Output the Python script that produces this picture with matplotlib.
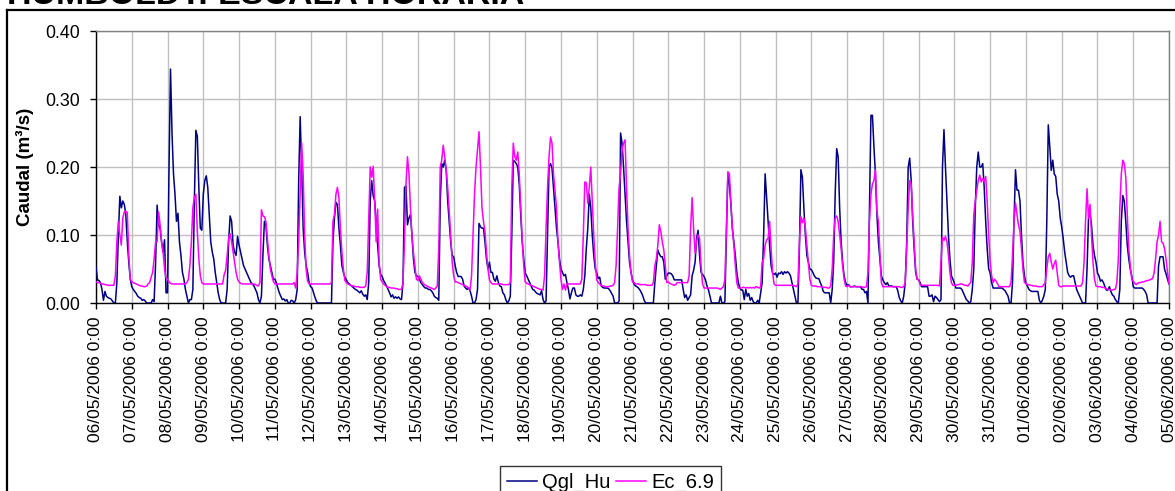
import numpy as np
import matplotlib
matplotlib.use("Agg")
import matplotlib.pyplot as plt
from matplotlib.lines import Line2D

plt.rcParams['font.family'] = ['Liberation Sans', 'DejaVu Sans']

# ---------------- data (hourly, one list of 24 values per day) ----------------
date_labels = ["06/05/2006 0:00", "07/05/2006 0:00", "08/05/2006 0:00", "09/05/2006 0:00",
               "10/05/2006 0:00", "11/05/2006 0:00", "12/05/2006 0:00", "13/05/2006 0:00",
               "14/05/2006 0:00", "15/05/2006 0:00", "16/05/2006 0:00", "17/05/2006 0:00",
               "18/05/2006 0:00", "19/05/2006 0:00", "20/05/2006 0:00", "21/05/2006 0:00",
               "22/05/2006 0:00", "23/05/2006 0:00", "24/05/2006 0:00", "25/05/2006 0:00",
               "26/05/2006 0:00", "27/05/2006 0:00", "28/05/2006 0:00", "29/05/2006 0:00",
               "30/05/2006 0:00", "31/05/2006 0:00", "01/06/2006 0:00", "02/06/2006 0:00",
               "03/06/2006 0:00", "04/06/2006 0:00", "05/06/2006 0:00"]

qgl_hu_days = [
    [0.053,0.034,0.033,0.030,0.020,0.004,0.017,0.010,0.008,0.007,0.006,0.003,0.000,0.000,0.030,0.100,0.157,0.140,0.150,0.145,0.130,0.090,0.060,0.035],
    [0.024,0.020,0.017,0.014,0.010,0.008,0.007,0.004,0.005,0.003,0.000,0.000,0.000,0.000,0.005,0.002,0.060,0.144,0.115,0.110,0.090,0.075,0.093,0.015],
    [0.015,0.200,0.344,0.250,0.190,0.160,0.120,0.132,0.090,0.070,0.045,0.035,0.020,0.010,0.000,0.005,0.005,0.020,0.150,0.254,0.245,0.170,0.110,0.107],
    [0.160,0.180,0.187,0.170,0.130,0.090,0.075,0.065,0.045,0.030,0.015,0.005,0.000,0.000,0.000,0.000,0.020,0.090,0.128,0.120,0.085,0.075,0.070,0.098],
    [0.085,0.075,0.065,0.055,0.050,0.045,0.040,0.035,0.030,0.028,0.025,0.020,0.015,0.005,0.000,0.010,0.070,0.120,0.115,0.085,0.065,0.055,0.045,0.035],
    [0.035,0.030,0.022,0.015,0.010,0.005,0.006,0.003,0.005,0.000,0.000,0.004,0.003,0.000,0.005,0.020,0.180,0.274,0.200,0.110,0.075,0.055,0.045,0.030],
    [0.024,0.022,0.015,0.008,0.002,0.000,0.000,0.000,0.000,0.000,0.000,0.000,0.000,0.000,0.000,0.090,0.125,0.148,0.145,0.110,0.085,0.055,0.045,0.038],
    [0.034,0.030,0.028,0.026,0.024,0.022,0.020,0.019,0.017,0.015,0.018,0.013,0.010,0.012,0.005,0.030,0.150,0.180,0.158,0.150,0.120,0.085,0.055,0.042],
    [0.039,0.033,0.029,0.025,0.020,0.015,0.009,0.012,0.007,0.009,0.007,0.009,0.006,0.005,0.030,0.170,0.172,0.115,0.125,0.130,0.100,0.065,0.045,0.040],
    [0.039,0.035,0.030,0.027,0.024,0.022,0.022,0.020,0.020,0.018,0.015,0.010,0.008,0.007,0.004,0.150,0.205,0.200,0.210,0.195,0.150,0.120,0.090,0.070],
    [0.068,0.055,0.045,0.039,0.039,0.039,0.035,0.025,0.022,0.020,0.022,0.018,0.010,0.000,0.000,0.005,0.020,0.117,0.112,0.110,0.110,0.090,0.065,0.050],
    [0.060,0.045,0.045,0.035,0.032,0.040,0.030,0.025,0.024,0.015,0.012,0.005,0.000,0.003,0.010,0.100,0.210,0.208,0.205,0.200,0.175,0.130,0.090,0.065],
    [0.044,0.040,0.035,0.030,0.025,0.020,0.019,0.016,0.014,0.013,0.012,0.018,0.005,0.000,0.003,0.100,0.200,0.205,0.198,0.170,0.140,0.110,0.090,0.065],
    [0.050,0.045,0.040,0.042,0.030,0.020,0.006,0.015,0.022,0.022,0.012,0.010,0.010,0.012,0.010,0.020,0.040,0.080,0.110,0.160,0.140,0.100,0.070,0.050],
    [0.044,0.036,0.038,0.025,0.023,0.022,0.022,0.022,0.021,0.018,0.014,0.010,0.000,0.000,0.000,0.003,0.250,0.235,0.200,0.160,0.120,0.090,0.060,0.045],
    [0.034,0.028,0.025,0.024,0.022,0.019,0.015,0.010,0.003,0.000,0.000,0.000,0.000,0.000,0.000,0.030,0.055,0.078,0.072,0.068,0.068,0.060,0.035,0.040],
    [0.044,0.044,0.043,0.040,0.034,0.034,0.034,0.034,0.034,0.034,0.020,0.008,0.012,0.004,0.008,0.012,0.040,0.048,0.060,0.095,0.107,0.070,0.045,0.042],
    [0.039,0.034,0.025,0.019,0.010,0.000,0.000,0.000,0.000,0.000,0.000,0.010,0.000,0.000,0.002,0.100,0.190,0.175,0.145,0.110,0.090,0.070,0.045,0.030],
    [0.022,0.019,0.019,0.005,0.020,0.010,0.014,0.004,0.008,0.002,0.000,0.000,0.004,0.000,0.015,0.030,0.100,0.190,0.155,0.120,0.085,0.055,0.044,0.042],
    [0.044,0.038,0.044,0.043,0.046,0.042,0.046,0.044,0.046,0.044,0.040,0.030,0.020,0.010,0.000,0.000,0.080,0.196,0.185,0.140,0.100,0.070,0.060,0.050],
    [0.049,0.045,0.040,0.037,0.036,0.036,0.030,0.025,0.017,0.015,0.015,0.015,0.015,0.000,0.020,0.060,0.160,0.227,0.215,0.140,0.090,0.060,0.040,0.030],
    [0.026,0.027,0.024,0.024,0.024,0.025,0.024,0.024,0.024,0.024,0.020,0.020,0.015,0.017,0.000,0.140,0.276,0.276,0.230,0.190,0.130,0.090,0.065,0.040],
    [0.034,0.030,0.027,0.030,0.025,0.025,0.025,0.024,0.024,0.024,0.018,0.008,0.003,0.000,0.010,0.030,0.090,0.200,0.213,0.180,0.120,0.080,0.045,0.035],
    [0.034,0.030,0.024,0.024,0.024,0.024,0.024,0.010,0.010,0.012,0.002,0.010,0.008,0.005,0.002,0.005,0.200,0.255,0.200,0.150,0.100,0.065,0.040,0.035],
    [0.029,0.022,0.022,0.022,0.022,0.020,0.015,0.010,0.005,0.003,0.000,0.002,0.020,0.050,0.140,0.200,0.222,0.200,0.200,0.205,0.170,0.120,0.080,0.050],
    [0.044,0.030,0.022,0.022,0.022,0.022,0.022,0.022,0.022,0.020,0.018,0.014,0.010,0.000,0.000,0.030,0.120,0.196,0.166,0.166,0.150,0.100,0.060,0.040],
    [0.029,0.025,0.020,0.018,0.017,0.017,0.017,0.017,0.017,0.004,0.000,0.004,0.010,0.020,0.120,0.262,0.230,0.195,0.210,0.190,0.186,0.160,0.150,0.125],
    [0.112,0.095,0.075,0.060,0.045,0.040,0.038,0.040,0.040,0.030,0.020,0.015,0.010,0.005,0.000,0.000,0.000,0.050,0.125,0.132,0.115,0.085,0.070,0.060],
    [0.044,0.040,0.032,0.034,0.030,0.024,0.019,0.019,0.024,0.017,0.012,0.010,0.005,0.002,0.000,0.020,0.120,0.158,0.150,0.120,0.085,0.065,0.050,0.040],
    [0.024,0.022,0.022,0.022,0.022,0.022,0.022,0.020,0.017,0.012,0.000,0.000,0.000,0.000,0.000,0.000,0.000,0.055,0.068,0.068,0.068,0.050,0.043,0.035],
]
qgl_hu_last = 0.028

ec_69_days = [
    [0.031,0.030,0.030,0.029,0.028,0.028,0.027,0.027,0.026,0.026,0.026,0.026,0.026,0.040,0.090,0.120,0.100,0.085,0.125,0.134,0.135,0.133,0.070,0.035],
    [0.031,0.030,0.029,0.028,0.027,0.026,0.025,0.025,0.024,0.024,0.025,0.028,0.030,0.038,0.045,0.065,0.090,0.090,0.134,0.115,0.090,0.075,0.050,0.037],
    [0.035,0.031,0.029,0.028,0.028,0.028,0.028,0.028,0.028,0.028,0.028,0.028,0.028,0.030,0.035,0.055,0.090,0.140,0.155,0.160,0.105,0.065,0.040,0.030],
    [0.028,0.028,0.028,0.028,0.028,0.028,0.028,0.028,0.028,0.028,0.028,0.028,0.028,0.028,0.042,0.048,0.070,0.095,0.102,0.090,0.075,0.060,0.045,0.035],
    [0.031,0.029,0.028,0.028,0.028,0.028,0.028,0.028,0.028,0.028,0.028,0.027,0.026,0.025,0.030,0.137,0.128,0.127,0.120,0.095,0.070,0.050,0.040,0.032],
    [0.028,0.028,0.028,0.028,0.028,0.028,0.028,0.028,0.028,0.028,0.028,0.028,0.028,0.030,0.022,0.045,0.090,0.160,0.235,0.190,0.100,0.050,0.032,0.028],
    [0.028,0.028,0.028,0.028,0.028,0.028,0.028,0.028,0.028,0.028,0.028,0.028,0.028,0.028,0.030,0.120,0.130,0.160,0.170,0.155,0.110,0.075,0.050,0.033],
    [0.030,0.028,0.027,0.026,0.025,0.025,0.024,0.024,0.024,0.023,0.023,0.023,0.023,0.025,0.045,0.120,0.200,0.185,0.201,0.150,0.090,0.138,0.060,0.035],
    [0.031,0.028,0.026,0.024,0.023,0.023,0.022,0.022,0.022,0.021,0.021,0.020,0.020,0.020,0.030,0.090,0.175,0.215,0.190,0.140,0.100,0.075,0.055,0.035],
    [0.033,0.040,0.035,0.030,0.028,0.026,0.025,0.024,0.023,0.022,0.021,0.020,0.022,0.025,0.080,0.200,0.210,0.232,0.215,0.196,0.170,0.135,0.100,0.060],
    [0.040,0.031,0.031,0.030,0.029,0.028,0.027,0.026,0.025,0.024,0.022,0.019,0.040,0.100,0.160,0.200,0.225,0.252,0.200,0.140,0.120,0.105,0.075,0.050],
    [0.034,0.030,0.028,0.028,0.028,0.028,0.028,0.028,0.028,0.027,0.027,0.027,0.027,0.027,0.030,0.170,0.235,0.215,0.210,0.222,0.190,0.140,0.093,0.055],
    [0.031,0.029,0.028,0.027,0.026,0.025,0.024,0.023,0.022,0.021,0.020,0.020,0.019,0.040,0.110,0.170,0.215,0.244,0.235,0.190,0.165,0.140,0.090,0.060],
    [0.035,0.020,0.028,0.019,0.028,0.028,0.028,0.028,0.028,0.028,0.028,0.028,0.028,0.028,0.035,0.100,0.178,0.177,0.147,0.170,0.200,0.150,0.100,0.060],
    [0.034,0.030,0.028,0.026,0.025,0.025,0.024,0.024,0.024,0.025,0.025,0.026,0.030,0.055,0.110,0.170,0.190,0.225,0.235,0.240,0.170,0.110,0.070,0.045],
    [0.031,0.030,0.028,0.028,0.028,0.027,0.027,0.027,0.027,0.027,0.026,0.026,0.026,0.026,0.030,0.055,0.065,0.085,0.115,0.105,0.090,0.078,0.055,0.030],
    [0.031,0.029,0.028,0.027,0.026,0.027,0.030,0.030,0.030,0.030,0.030,0.030,0.030,0.030,0.040,0.110,0.155,0.110,0.073,0.090,0.100,0.095,0.055,0.028],
    [0.022,0.022,0.022,0.022,0.022,0.022,0.022,0.022,0.022,0.022,0.021,0.020,0.022,0.024,0.035,0.110,0.193,0.190,0.150,0.110,0.085,0.055,0.030,0.022],
    [0.022,0.022,0.023,0.023,0.022,0.023,0.022,0.023,0.022,0.023,0.022,0.024,0.023,0.022,0.024,0.060,0.065,0.085,0.093,0.095,0.120,0.080,0.045,0.028],
    [0.026,0.026,0.026,0.026,0.026,0.026,0.026,0.026,0.026,0.026,0.026,0.026,0.026,0.025,0.024,0.028,0.090,0.127,0.118,0.125,0.110,0.085,0.060,0.035],
    [0.026,0.025,0.025,0.025,0.024,0.024,0.024,0.024,0.023,0.023,0.023,0.022,0.022,0.025,0.050,0.100,0.125,0.128,0.120,0.100,0.080,0.055,0.035,0.025],
    [0.024,0.026,0.024,0.024,0.024,0.024,0.024,0.024,0.024,0.024,0.024,0.023,0.023,0.024,0.045,0.120,0.160,0.175,0.180,0.196,0.135,0.120,0.075,0.030],
    [0.024,0.024,0.024,0.024,0.024,0.024,0.024,0.024,0.024,0.024,0.024,0.024,0.023,0.023,0.024,0.030,0.080,0.140,0.180,0.175,0.130,0.090,0.050,0.035],
    [0.034,0.027,0.026,0.026,0.026,0.026,0.026,0.026,0.026,0.026,0.026,0.026,0.026,0.026,0.025,0.060,0.097,0.092,0.098,0.090,0.070,0.045,0.030,0.026],
    [0.026,0.026,0.027,0.027,0.028,0.028,0.027,0.026,0.026,0.025,0.028,0.030,0.060,0.130,0.150,0.165,0.180,0.188,0.178,0.183,0.178,0.186,0.150,0.100],
    [0.060,0.040,0.030,0.035,0.032,0.028,0.024,0.024,0.024,0.024,0.024,0.024,0.024,0.024,0.030,0.070,0.120,0.147,0.130,0.115,0.105,0.080,0.050,0.030],
    [0.029,0.027,0.027,0.026,0.026,0.025,0.025,0.025,0.024,0.024,0.024,0.024,0.027,0.030,0.050,0.068,0.073,0.060,0.050,0.058,0.063,0.045,0.026,0.024],
    [0.024,0.025,0.025,0.025,0.025,0.025,0.025,0.025,0.025,0.025,0.025,0.025,0.025,0.025,0.030,0.060,0.120,0.168,0.125,0.145,0.100,0.060,0.035,0.025],
    [0.024,0.024,0.024,0.023,0.023,0.022,0.021,0.020,0.020,0.019,0.019,0.020,0.020,0.030,0.065,0.140,0.190,0.210,0.205,0.185,0.130,0.080,0.055,0.035],
    [0.032,0.029,0.027,0.029,0.030,0.030,0.031,0.031,0.032,0.033,0.033,0.034,0.035,0.036,0.044,0.065,0.090,0.100,0.120,0.090,0.088,0.080,0.065,0.045],
]
ec_69_last = 0.029

series_names = ["Qgl_Hu", "Ec_6.9"]
series_colors = ["#000080", "#FF00FF"]

# ---------------- build series ----------------
qgl = np.array([v for day in qgl_hu_days for v in day] + [qgl_hu_last])
ec = np.array([v for day in ec_69_days for v in day] + [ec_69_last])
t = np.arange(len(qgl)) / 24.0  # time in days from first label

W, H = 1175, 491
fig = plt.figure(figsize=(W / 100, H / 100), dpi=100)

# outer chart frame (only top/left visible in the crop)
fig.add_artist(Line2D([6.5 / W, 6.5 / W], [0, 1 - 10 / H], transform=fig.transFigure,
                      color='black', lw=1.6))
fig.add_artist(Line2D([6.5 / W, 1.0], [1 - 10 / H, 1 - 10 / H], transform=fig.transFigure,
                      color='black', lw=1.6))

# title (mostly cut off at the top, as in the original)
fig.text(7 / W, 1 - 3.5 / H, "HUMBOLDT: ESCALA HORARIA", fontsize=24.5, fontweight='bold',
         va='baseline', ha='left')

L, R, T, B = 96, 1169, 31, 303
ax = fig.add_axes([L / W, 1 - B / H, (R - L) / W, (B - T) / H])

ax.plot(t, qgl, color=series_colors[0], lw=1.1, label=series_names[0], zorder=3)
ax.plot(t, ec, color=series_colors[1], lw=1.1, label=series_names[1], zorder=4)

ax.set_xlim(0, 30)
ax.set_ylim(0, 0.40)
ax.set_xticks(np.arange(len(date_labels)))
ax.set_xticklabels(date_labels, rotation=90, fontsize=12.5)
yt = [0.0, 0.1, 0.2, 0.3, 0.4]
ax.set_yticks(yt)
ax.set_yticklabels([f"{v:.2f}" for v in yt], fontsize=12.8)
ax.grid(True, color='#c0c0c0', lw=1.0, zorder=0)
ax.set_axisbelow(True)
ax.tick_params(axis='x', direction='out', length=4.5, width=1, color='black', pad=5)
ax.tick_params(axis='y', direction='out', length=4.5, width=1, color='black', pad=7)

for side in ['top', 'right']:
    ax.spines[side].set_color('#808080')
    ax.spines[side].set_linewidth(1.0)
for side in ['left', 'bottom']:
    ax.spines[side].set_color('black')
    ax.spines[side].set_linewidth(1.0)

fig.text(25 / W, 1 - 167 / H, "Caudal (m\u00b3/s)", rotation=90, fontsize=13.5,
         fontweight='bold', ha='center', va='center')

leg = ax.legend(loc='upper left', bbox_to_anchor=(500 / W, 1 - 466 / H),
                bbox_transform=fig.transFigure, ncol=2, fontsize=14.5,
                frameon=True, fancybox=False, shadow=False, borderpad=0.35,
                handlelength=1.5, handletextpad=0.25, columnspacing=0.25,
                borderaxespad=0)
leg.get_frame().set_edgecolor('black')
leg.get_frame().set_linewidth(1.0)

fig.savefig("out.png", dpi=100)
